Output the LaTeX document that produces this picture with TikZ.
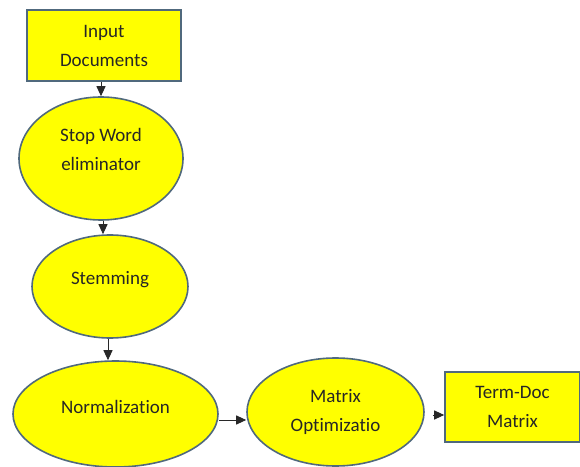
\documentclass[tikz,border=0pt]{standalone}
\usepackage{fontspec}
\setmainfont[Ligatures=NoCommon]{Carlito}
\usetikzlibrary{shapes.geometric,arrows.meta,calc}
\definecolor{edgeblue}{RGB}{80,105,125}
\definecolor{boxyellow}{RGB}{255,255,0}
\definecolor{arrowgray}{RGB}{40,40,40}
\tikzset{
  x=1pt,y=1pt,
  base/.style={draw=edgeblue,line width=1.6pt,fill=boxyellow,align=center,
    font=\fontsize{19}{29}\selectfont,text=black!85,inner sep=0pt},
  rectbox/.style={base,rectangle},
  ovalbox/.style={base,ellipse},
  conn/.style={draw=arrowgray,line width=1pt,-{Triangle[width=9pt,length=10pt]}}
}
\begin{document}
\begin{tikzpicture}
\useasboundingbox[fill=white] (0,0) rectangle (580,466);
\node[rectbox,minimum width=154pt,minimum height=71pt] (inp) at (104,420.5) {Input\\Documents};
\node[ovalbox,minimum width=164pt,minimum height=123pt,text depth=18pt] (stop) at (101,307.5) {Stop Word\\eliminator};
\node[ovalbox,minimum width=156pt,minimum height=103pt,text depth=18pt] (stem) at (110,179.5) {Stemming};
\node[ovalbox,minimum width=205pt,minimum height=106pt,text depth=14pt] (norm) at (115.5,52) {Normalization};
\node[ovalbox,minimum width=177pt,minimum height=108pt] (mopt) at (335.5,54) {Matrix\\Optimizatio};
\node[rectbox,minimum width=135pt,minimum height=70pt] (term) at (512.5,59) {Term-Doc\\Matrix};
\draw[conn] (inp.south -| stop.north) -- (stop.north);
\draw[conn] ([xshift=2pt]stop.south) -- ([xshift=2pt]stop.south |- stem.north);
\draw[conn] ([xshift=-2pt]stem.south) -- ([xshift=-2pt]stem.south |- norm.north);
\draw[conn] ([yshift=-6pt]norm.east) -- ([yshift=-6pt]norm.east -| mopt.west);
\draw[conn,shorten <=8pt] ([yshift=-8pt]term.west -| mopt.east) -- ([yshift=-8pt]term.west);
\end{tikzpicture}
\end{document}
